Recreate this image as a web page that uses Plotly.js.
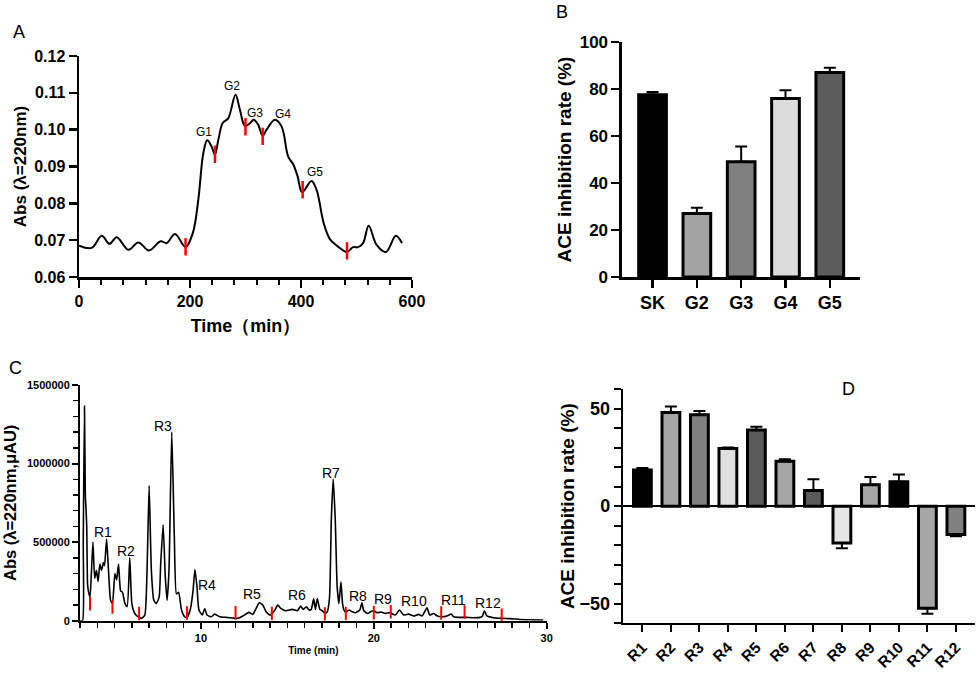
<!DOCTYPE html>
<html>
<head>
<meta charset="utf-8">
<script src="https://cdn.plot.ly/plotly-3.0.1.min.js"></script>
<style>html,body{margin:0;padding:0;background:#fff;}#chart{width:979px;height:674px;}</style>
</head>
<body>
<div id="chart"></div>
<script>
// ---------- Panel A: gel filtration chromatogram ----------
const aTime = [0,23,41,55,68,89,107,126,147,158,173,192,205,215,224,231,239,245,251,259,269,282,290,299,307,315,323,331,338,353,365,377,386,394,402,419,428,441,452,464,483,494,503,512,522,536,553,571,582];
const aAbs  = [0.0685,0.0679,0.0712,0.0690,0.0708,0.0674,0.0694,0.0672,0.0697,0.0692,0.0717,0.0681,0.0719,0.0810,0.0936,0.0971,0.0954,0.0932,0.0972,0.1018,0.1031,0.1095,0.1054,0.1010,0.1016,0.1027,0.1013,0.0983,0.1000,0.1027,0.1009,0.0927,0.0906,0.0873,0.0830,0.0861,0.0837,0.0746,0.0703,0.0686,0.0668,0.0681,0.0681,0.0692,0.0739,0.0688,0.0668,0.0712,0.0692];
const aCutTime = [192,245,300,331,403,483];
const aCutAbs  = [0.0682,0.0933,0.1008,0.0982,0.0837,0.0671];
const aPeakLabels = ['G1','G2','G3','G4','G5'];
const aPeakTime   = [225,276,317,367,426];
const aPeakAbs    = [0.0995,0.1119,0.1045,0.1043,0.0884];

// ---------- Panel B: ACE inhibition of fractions ----------
const bCats = ['SK','G2','G3','G4','G5'];
const bVals = [77.5,27,49,76,87];
const bErr  = [1.2,2.5,6.5,3.5,2];
const bColors = ['#000000','#a3a3a3','#808080','#dcdcdc','#5c5c5c'];

// ---------- Panel C: RP-HPLC chromatogram ----------
const cTime = [3.00,3.15,3.19,3.26,3.31,3.35,3.39,3.44,3.50,3.58,3.65,3.75,3.85,3.95,4.05,4.15,4.25,4.35,4.42,4.54,4.65,4.77,4.88,5.02,5.12,5.23,5.35,5.46,5.60,5.73,5.88,6.00,6.17,6.42,6.56,6.75,6.88,7.00,7.13,7.27,7.42,7.58,7.67,7.81,7.94,8.04,8.15,8.31,8.46,8.58,8.71,8.87,9.06,9.19,9.38,9.54,9.65,9.77,9.88,10.08,10.21,10.35,10.60,10.79,11.08,11.46,11.85,12.00,12.23,12.52,12.77,13.00,13.19,13.38,13.58,13.77,14.00,14.25,14.44,14.62,14.90,15.29,15.58,15.77,15.92,16.10,16.25,16.38,16.52,16.62,16.73,16.88,17.02,17.17,17.31,17.44,17.54,17.65,17.77,17.88,17.98,18.10,18.19,18.27,18.38,18.56,18.75,18.94,19.19,19.31,19.42,19.65,19.81,20.00,20.19,20.42,20.67,20.92,21.25,21.48,21.73,22.02,22.31,22.60,22.79,23.08,23.23,23.46,23.65,23.90,24.23,24.48,24.62,25.00,25.38,25.77,26.15,26.29,26.40,26.54,26.92,27.40,27.88,28.46,29.04,29.80];
const cAbs  = [0,0,500000,1366000,800000,710000,600000,230000,180000,150000,280000,500000,270000,320000,250000,360000,320000,370000,350000,520000,320000,130000,110000,300000,260000,360000,190000,180000,110000,90000,400000,110000,46000,20000,15000,35000,320000,860000,320000,130000,110000,150000,360000,610000,270000,130000,320000,1200000,530000,170000,180000,70000,25000,21000,70000,190000,325000,215000,70000,36000,78000,36000,25000,42000,25000,21000,17000,15000,19000,36000,53000,40000,78000,114000,99000,57000,36000,63000,99000,78000,63000,72000,63000,93000,72000,89000,68000,72000,139000,72000,141000,72000,63000,46000,57000,152000,638000,902000,638000,215000,110000,247000,110000,68000,53000,68000,57000,51000,68000,114000,63000,46000,57000,63000,51000,55000,46000,51000,36000,68000,36000,42000,30000,40000,30000,82000,36000,46000,32000,25000,30000,42000,25000,21000,21000,19000,21000,30000,63000,30000,19000,15000,13000,8000,6000,4000];
const cCutTime = [3.58,4.88,6.42,9.19,12.0,14.1,17.17,18.38,20.0,20.98,23.9,25.25,27.4];
const cCutAbs  = [108000,87000,46000,49000,51000,46000,42000,46000,51000,57000,49000,55000,34000];
const cPeakLabels = ['R1','R2','R3','R4','R5','R6','R7','R8','R9','R10','R11','R12'];
const cPeakTime   = [4.35,5.65,7.81,10.35,12.94,15.58,17.54,19.08,20.52,22.35,24.62,26.58];
const cPeakAbs    = [564000,441000,1240000,226000,169000,163000,938000,158000,141000,127000,131000,114000];

// ---------- Panel D: ACE inhibition of HPLC fractions ----------
const dCats = ['R1','R2','R3','R4','R5','R6','R7','R8','R9','R10','R11','R12'];
const dVals = [18.5,48,46.8,29.6,39,23,8,-18.8,11,12.5,-52.3,-14.5];
const dErr  = [1,3,2,0.5,1.7,1,5.8,2.7,4,3.7,2.8,0.9];
const dColors = ['#000000','#a6a6a6','#808080','#e0e0e0','#5a5a5a','#a6a6a6','#5a5a5a','#e6e6e6','#a6a6a6','#000000','#a6a6a6','#808080'];

// ---------- helpers ----------
function segs(xs, ys, half){
  const X=[],Y=[];
  xs.forEach((x,i)=>{X.push(x,x,null);Y.push(ys[i]-half,ys[i]+half,null);});
  return {X,Y};
}
const FONT = 'Liberation Sans, Arial, Helvetica, sans-serif';
const bold = (s)=>({family:FONT,size:s,color:'#000',weight:'bold'});
const reg  = (s)=>({family:FONT,size:s,color:'#000'});

const aSeg = segs(aCutTime, aCutAbs, 0.00236);
const cSeg = segs(cCutTime, cCutAbs, 43000);

const traces = [
  {type:'scatter',mode:'lines',x:aTime,y:aAbs,xaxis:'x',yaxis:'y',line:{color:'#000',width:2,shape:'spline',smoothing:1},hoverinfo:'skip'},
  {type:'scatter',mode:'lines',x:aSeg.X,y:aSeg.Y,xaxis:'x',yaxis:'y',line:{color:'#ff0000',width:2.5},connectgaps:false,hoverinfo:'skip'},
  {type:'bar',x:bCats,y:bVals,xaxis:'x2',yaxis:'y2',marker:{color:bColors,line:{color:'#000',width:3}},
   error_y:{type:'data',symmetric:false,array:bErr,arrayminus:bErr.map(()=>0),color:'#000',thickness:2,width:6}},
  {type:'scatter',mode:'lines',x:cTime,y:cAbs,xaxis:'x3',yaxis:'y3',line:{color:'#000',width:1.6,shape:'spline',smoothing:0.5},hoverinfo:'skip'},
  {type:'scatter',mode:'lines',x:cSeg.X,y:cSeg.Y,xaxis:'x3',yaxis:'y3',line:{color:'#ff0000',width:2},connectgaps:false,hoverinfo:'skip'},
  {type:'bar',x:dCats,y:dVals,xaxis:'x4',yaxis:'y4',marker:{color:dColors,line:{color:'#000',width:3}},
   error_y:{type:'data',symmetric:false,array:dVals.map((v,i)=>v>=0?dErr[i]:0),arrayminus:dVals.map((v,i)=>v<0?dErr[i]:0),color:'#000',thickness:2,width:6}}
];

const axBase = {showline:true,linecolor:'#000',linewidth:2.5,ticks:'outside',tickcolor:'#000',tickwidth:2.5,ticklen:8,showgrid:false,zeroline:false,automargin:false};

const annotations = [];
aPeakLabels.forEach((t,i)=>annotations.push({x:aPeakTime[i],y:aPeakAbs[i],xref:'x',yref:'y',text:t,showarrow:false,font:reg(12),xanchor:'center',yanchor:'middle'}));
cPeakLabels.forEach((t,i)=>annotations.push({x:cPeakTime[i],y:cPeakAbs[i],xref:'x3',yref:'y3',text:t,showarrow:false,font:reg(14),xanchor:'center',yanchor:'middle'}));
[['A',19,32],['B',562,12],['C',15,368],['D',848,389]].forEach(p=>annotations.push({x:p[1]/979,y:1-p[2]/674,xref:'paper',yref:'paper',text:p[0],showarrow:false,font:reg(18),xanchor:'center',yanchor:'middle'}));

const layout = {
  width:979,height:674,margin:{l:0,r:0,t:0,b:0},paper_bgcolor:'#fff',plot_bgcolor:'rgba(0,0,0,0)',
  showlegend:false,bargap:0.375,font:{family:FONT,color:'#000'},
  xaxis:Object.assign({},axBase,{domain:[0.0807,0.4208],anchor:'y',range:[0,600],tick0:0,dtick:200,tickfont:bold(16),
    minor:{dtick:40,ticks:'outside',ticklen:5,tickwidth:2,tickcolor:'#000'},title:{text:'Time（min）',font:bold(18),standoff:11}}),
  yaxis:Object.assign({},axBase,{domain:[0.5890,0.9169],anchor:'x',range:[0.06,0.12],dtick:0.01,tickformat:'.2f',tickfont:bold(16),
    title:{text:'Abs (λ=220nm)',font:bold(17),standoff:3}}),
  xaxis2:Object.assign({},axBase,{domain:[0.6353,0.8784],anchor:'y2',type:'category',range:[-0.69,4.68],tickfont:bold(18),title:{text:''}}),
  yaxis2:Object.assign({},axBase,{domain:[0.5890,0.9377],anchor:'x2',range:[0,100],dtick:20,tickfont:bold(17),
    title:{text:'ACE inhibition rate (%)',font:bold(19),standoff:3}}),
  xaxis3:Object.assign({},axBase,{domain:[0.0817,0.5584],anchor:'y3',range:[3,30.001],tick0:0,dtick:10,linewidth:2,tickwidth:2,ticklen:6,tickfont:bold(11),
    minor:{dtick:1,ticks:'outside',ticklen:5,tickwidth:1.5,tickcolor:'#000'},title:{text:'Time (min)',font:bold(10),standoff:4}}),
  yaxis3:Object.assign({},axBase,{domain:[0.0791,0.4288],anchor:'x3',range:[0,1500000],dtick:500000,tickformat:'d',linewidth:2,tickwidth:2,ticklen:6,tickfont:bold(11),
    minor:{dtick:100000,ticks:'outside',ticklen:5,tickwidth:1.5,tickcolor:'#000'},title:{text:'Abs (λ=220nm,μAU)',font:bold(16.5),standoff:6}}),
  xaxis4:Object.assign({},axBase,{domain:[0.6361,0.9959],anchor:'y4',type:'category',range:[-0.69,11.67],tickangle:-45,linewidth:2,tickwidth:2,ticklen:7,tickfont:bold(15.5),title:{text:''}}),
  yaxis4:Object.assign({},axBase,{domain:[0.0752,0.4228],anchor:'x4',range:[-60,60],dtick:50,linewidth:2,tickwidth:2,ticklen:7,tickfont:bold(18),
    zeroline:true,zerolinecolor:'#000',zerolinewidth:2,
    minor:{dtick:10,ticks:'outside',ticklen:7,tickwidth:2,tickcolor:'#000'},title:{text:'ACE inhibition rate (%)',font:bold(19),standoff:0}}),
  annotations:annotations
};
Plotly.newPlot('chart',traces,layout,{displayModeBar:false,staticPlot:true});
</script>
</body>
</html>
